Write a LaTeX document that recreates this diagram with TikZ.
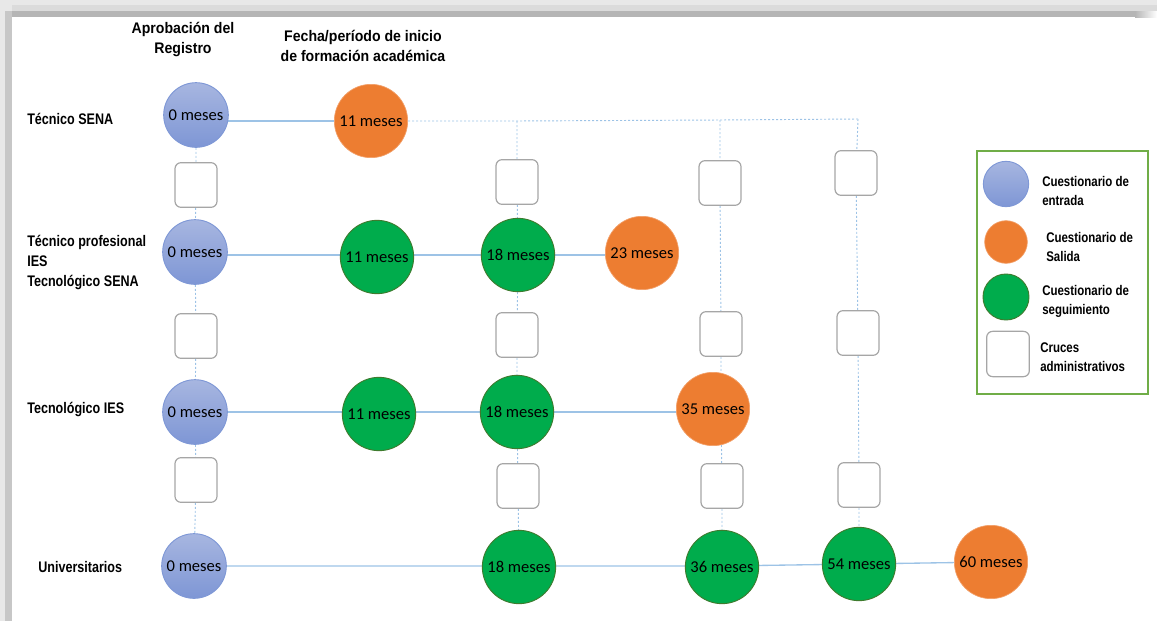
\documentclass[tikz,border=0pt]{standalone}
\usepackage{fontspec}
\setmainfont{Carlito}
\newfontfamily\lblfont[FakeStretch=0.82]{Liberation Sans Bold}
\newfontfamily\hdrfont[FakeStretch=0.92]{Liberation Sans Bold}
\usetikzlibrary{backgrounds}
\definecolor{blueA}{HTML}{A7B6E0}
\definecolor{blueB}{HTML}{7E96D5}
\definecolor{blueEdge}{HTML}{7F98D6}
\definecolor{orangeQ}{HTML}{ED7D31}
\definecolor{orangeEdge}{HTML}{F2A06A}
\definecolor{greenQ}{HTML}{00AC4C}
\definecolor{greenEdge}{HTML}{3E7B2E}
\definecolor{boxEdge}{HTML}{A6A6A6}
\definecolor{lineBlue}{HTML}{9DC3E6}
\definecolor{legendEdge}{HTML}{70AD47}
\tikzset{
  entryq/.style={circle, minimum size=48.5pt, inner sep=0pt, draw=blueEdge, line width=0.7pt,
    top color=blueA, bottom color=blueB, font=\fontsize{12.4}{14}\selectfont},
  exitq/.style={circle, minimum size=55pt, inner sep=0pt, draw=orangeEdge, line width=0.5pt,
    fill=orangeQ, font=\fontsize{12.4}{14}\selectfont},
  followq/.style={circle, minimum size=55pt, inner sep=0pt, draw=greenEdge, line width=0.7pt,
    fill=greenQ, font=\fontsize{12.4}{14}\selectfont},
  cruce/.style={rectangle, rounded corners=4.5pt, minimum width=31.5pt, minimum height=33.5pt,
    draw=boxEdge, line width=0.9pt, fill=white},
  conn/.style={draw=lineBlue, line width=1pt},
  dotline/.style={draw=lineBlue, line width=0.7pt, dash pattern=on 1.5pt off 1.5pt},
  rowlabel/.style={anchor=west, align=left, inner sep=0pt,
    font=\lblfont\fontsize{11.5}{15}\selectfont},
  header/.style={align=center, inner sep=0pt,
    font=\hdrfont\fontsize{11.5}{15}\selectfont},
  legtext/.style={anchor=west, align=left, inner sep=0pt,
    font=\lblfont\fontsize{10.5}{14.25}\selectfont},
}
\begin{document}
\begin{tikzpicture}[x=0.75pt,y=-0.75pt]
\useasboundingbox (0,0) rectangle (1157,621);

% headers
\node[header] (h1) at (183,40) {Aprobación del\\Registro};
\node[header] (h2) at (363,46) {Fecha/período de inicio\\de formación académica};

% row labels
\node[rowlabel] (r1) at (27,119) {Técnico SENA};
\node[rowlabel] (r2) at (27,262) {Técnico profesional\\IES\\Tecnológico SENA};
\node[rowlabel] (r3) at (27,409) {Tecnológico IES};
\node[rowlabel] (r4) at (38,567) {Universitarios};

% row 1
\node[entryq] (e1) at (196,115) {0 meses};
\node[exitq] (o1) at (371,121) {11 meses};
\coordinate (t3) at (517,121);
\coordinate (t4) at (720,120);
\coordinate (t5) at (858,119);

% boxes row 1-2
\node[cruce] (b11) at (196,185) {};
\node[cruce] (b13) at (517,182) {};
\node[cruce] (b14) at (720,183) {};
\node[cruce] (b15) at (856,173) {};

% row 2
\node[entryq] (e2) at (195,252) {0 meses};
\node[followq] (g2a) at (377,257) {11 meses};
\node[followq] (g2b) at (518,255) {18 meses};
\node[exitq] (o2) at (642,253) {23 meses};

% boxes row 2-3
\node[cruce] (b21) at (196,336) {};
\node[cruce] (b23) at (517,335) {};
\node[cruce] (b24) at (721,334) {};
\node[cruce] (b25) at (858,333) {};

% row 3
\node[entryq] (e3) at (195,412) {0 meses};
\node[followq] (g3a) at (379,414) {11 meses};
\node[followq] (g3b) at (517,412) {18 meses};
\node[exitq] (o3) at (713,409) {35 meses};

% boxes row 3-4
\node[cruce] (b31) at (196,480) {};
\node[cruce] (b33) at (518,486) {};
\node[cruce] (b34) at (722,486) {};
\node[cruce] (b35) at (859,485) {};

% row 4
\node[entryq] (e4) at (194,566) {0 meses};
\node[followq] (g4b) at (519,567) {18 meses};
\node[followq] (g4c) at (722,567) {36 meses};
\node[followq] (g4d) at (859,564) {54 meses};
\node[exitq] (o4) at (991,562) {60 meses};

% legend
\node[draw=legendEdge, line width=1.1pt, minimum width=128pt, minimum height=182pt, inner sep=0pt]
  (leg) at (1062.5,272.5) {};
\node[entryq, minimum size=34pt] (l1) at (1006,184) {};
\node[exitq, minimum size=32pt] (l2) at (1006,242) {};
\node[followq, minimum size=34.5pt] (l3) at (1006,297) {};
\node[cruce, minimum width=32pt, minimum height=34pt] (l4) at (1008,354) {};
\node[legtext] (lt1) at (1042,190.5) {Cuestionario de\\entrada};
\node[legtext] (lt2) at (1046,246.5) {Cuestionario de\\Salida};
\node[legtext] (lt3) at (1042,301.5) {Cuestionario de\\seguimiento};
\node[legtext] (lt4) at (1040,357.5) {Cruces\\administrativos};

\begin{scope}[on background layer]
  % frame shadow
  \fill[black!9] (0,0) rectangle (1157,11);
  \fill[black!14] (12,5) rectangle (1157,11);
  \fill[black!29] (12,11) rectangle (1135,17);
  \shade[left color=black!29, right color=white] (1135,11) rectangle (1157,17);
  \fill[black!9] (0,0) rectangle (5,621);
  \fill[black!22] (5,11) rectangle (12,621);
  % solid row connectors (horizontal)
  \draw[conn] (e1 |- o1) -- (o1);
  \draw[conn] (e2 |- g2b) -- (g2a |- g2b) -- (g2b) -- (o2 |- g2b);
  \draw[conn] (e3 |- g3b) -- (g3a |- g3b) -- (g3b) -- (o3 |- g3b);
  \draw[conn] (e4) -- (g4b |- e4) -- (g4c |- e4) -- (g4d) -- (o4);
  % dotted
  \draw[dotline] (o1) -- (t3) -- (t4) -- (t5);
  \draw[dotline] (e1) -- (b11) -- (e2) -- (b21) -- (e3) -- (b31) -- (e4);
  \draw[dotline] (t3) -- (b13) -- (g2b) -- (b23) -- (g3b) -- (b33) -- (g4b);
  \draw[dotline] (t4) -- (b14) -- (b24) -- (b24 |- o3);
  \draw[dotline] (b24 |- o3) -- (b34) -- (g4c);
  \draw[dotline] (t5) -- (b15) -- (b25) -- (b35) -- (g4d);
\end{scope}
\end{tikzpicture}
\end{document}
